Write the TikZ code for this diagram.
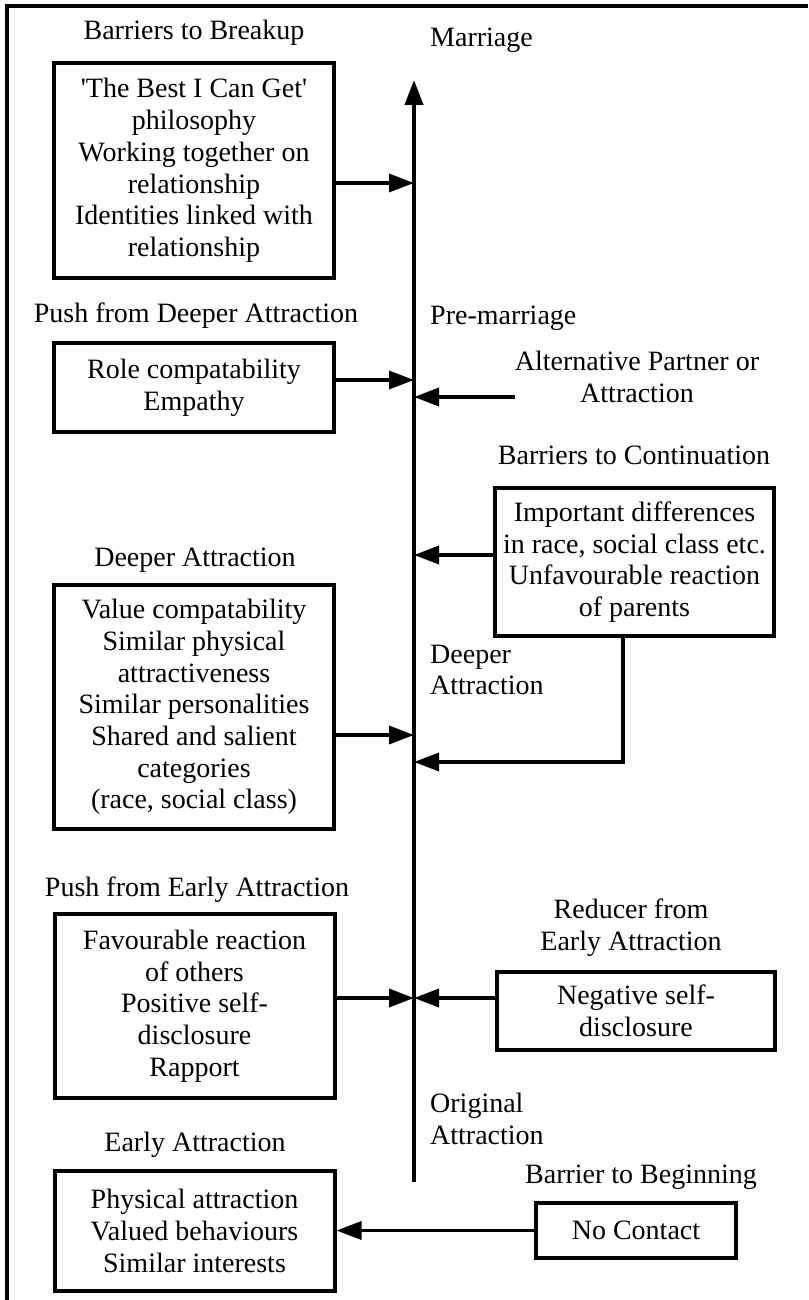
\documentclass[tikz,border=0pt]{standalone}
\usepackage{fontspec}
\setmainfont{Liberation Serif}
\usetikzlibrary{arrows.meta}
\begin{document}
\begin{tikzpicture}[x=1pt,y=-1pt,
  every node/.style={font=\fontsize{28}{31.7}\selectfont, inner sep=0pt},
  box/.style={draw, line width=4pt, align=center, minimum width=280pt},
  lbl/.style={align=center},
  lblL/.style={align=left, anchor=west},
  arr/.style={line width=3.5pt, -{Triangle[length=25pt,width=18pt]}},
  frame/.style={line width=4pt}]
\useasboundingbox (0,0) rectangle (808,1300);
% frame (top and left edges)
\draw[frame] (7,1300) -- (7,6.5) -- (808,6.5);

% left column
\node[lbl] (t1) at (194,33) {Barriers to Breakup};
\node[box, minimum height=215pt] (b1) at (194,170.5) {\textquotesingle The Best I Can Get\textquotesingle\\philosophy\\Working together on\\relationship\\Identities linked with\\relationship};
\node[lbl] (t2) at (196,316) {Push from Deeper Attraction};
\node[box, minimum height=89pt] (b2) at (194,387.5) {Role compatability\\Empathy};
\node[lbl] (t4) at (195,560) {Deeper Attraction};
\node[box, minimum height=244pt] (b4) at (194,707) {Value compatability\\Similar physical\\attractiveness\\Similar personalities\\Shared and salient\\categories\\(race, social class)};
\node[lbl] (t5) at (197,890) {Push from Early Attraction};
\node[box, minimum height=184pt] (b5) at (194.5,1006) {Favourable reaction\\of others\\Positive self-\\disclosure\\Rapport};
\node[lbl] (t8) at (195,1145) {Early Attraction};
\node[box, minimum height=120pt] (b8) at (194.5,1231) {Physical attraction\\Valued behaviours\\Similar interests};

% right column
\node[lblL] (lm) at (430,40) {Marriage};
\node[lblL] (lp) at (430,318) {Pre-marriage};
\node[lbl] (alt) at (637,377) {Alternative Partner or\\Attraction};
\node[lbl] (t3) at (634,455) {Barriers to Continuation};
\node[box, minimum width=279pt, minimum height=148pt] (b3) at (634.5,562) {Important differences\\in race, social class etc.\\Unfavourable reaction\\of parents};
\node[lblL] (ld) at (430,670) {Deeper\\Attraction};
\node[lbl] (t6) at (631,928) {Reducer from\\Early Attraction};
\node[box, minimum width=278pt, minimum height=78pt] (b6) at (636,1011) {Negative self-\\disclosure};
\node[lblL] (lo) at (430,1119) {Original\\Attraction};
\node[lbl] (t7) at (641,1177) {Barrier to Beginning};
\node[box, minimum width=200pt, minimum height=55pt] (b7) at (636,1230.5) {No Contact};

% main axis
\coordinate (base) at (414,1182);
\coordinate (top) at (414,80);
\draw[arr, line width=4pt] (base) -- (top);

% points on the axis
\coordinate (m1) at (414,183);
\coordinate (m2) at (414,380);
\coordinate (m3) at (414,397);
\coordinate (m4) at (414,555);
\coordinate (m5) at (414,762);
\coordinate (m6) at (414,735);
\coordinate (m7) at (414,998);
\coordinate (k3) at (623,762);

\draw[arr] (b1.east |- m1) -- (m1);
\draw[arr] (b2.east |- m2) -- (m2);
\draw[arr] (alt.west |- m3) -- (m3);
\draw[arr] (b3.west |- m4) -- (m4);
\draw[arr] (b3.south -| k3) |- (m5);
\draw[arr] (b4.east |- m6) -- (m6);
\draw[arr] (b5.east |- m7) -- (m7);
\draw[arr] (b6.west |- m7) -- (m7);
\draw[arr] (b7.west) -- (b8.east |- b7.west);
\end{tikzpicture}
\end{document}
